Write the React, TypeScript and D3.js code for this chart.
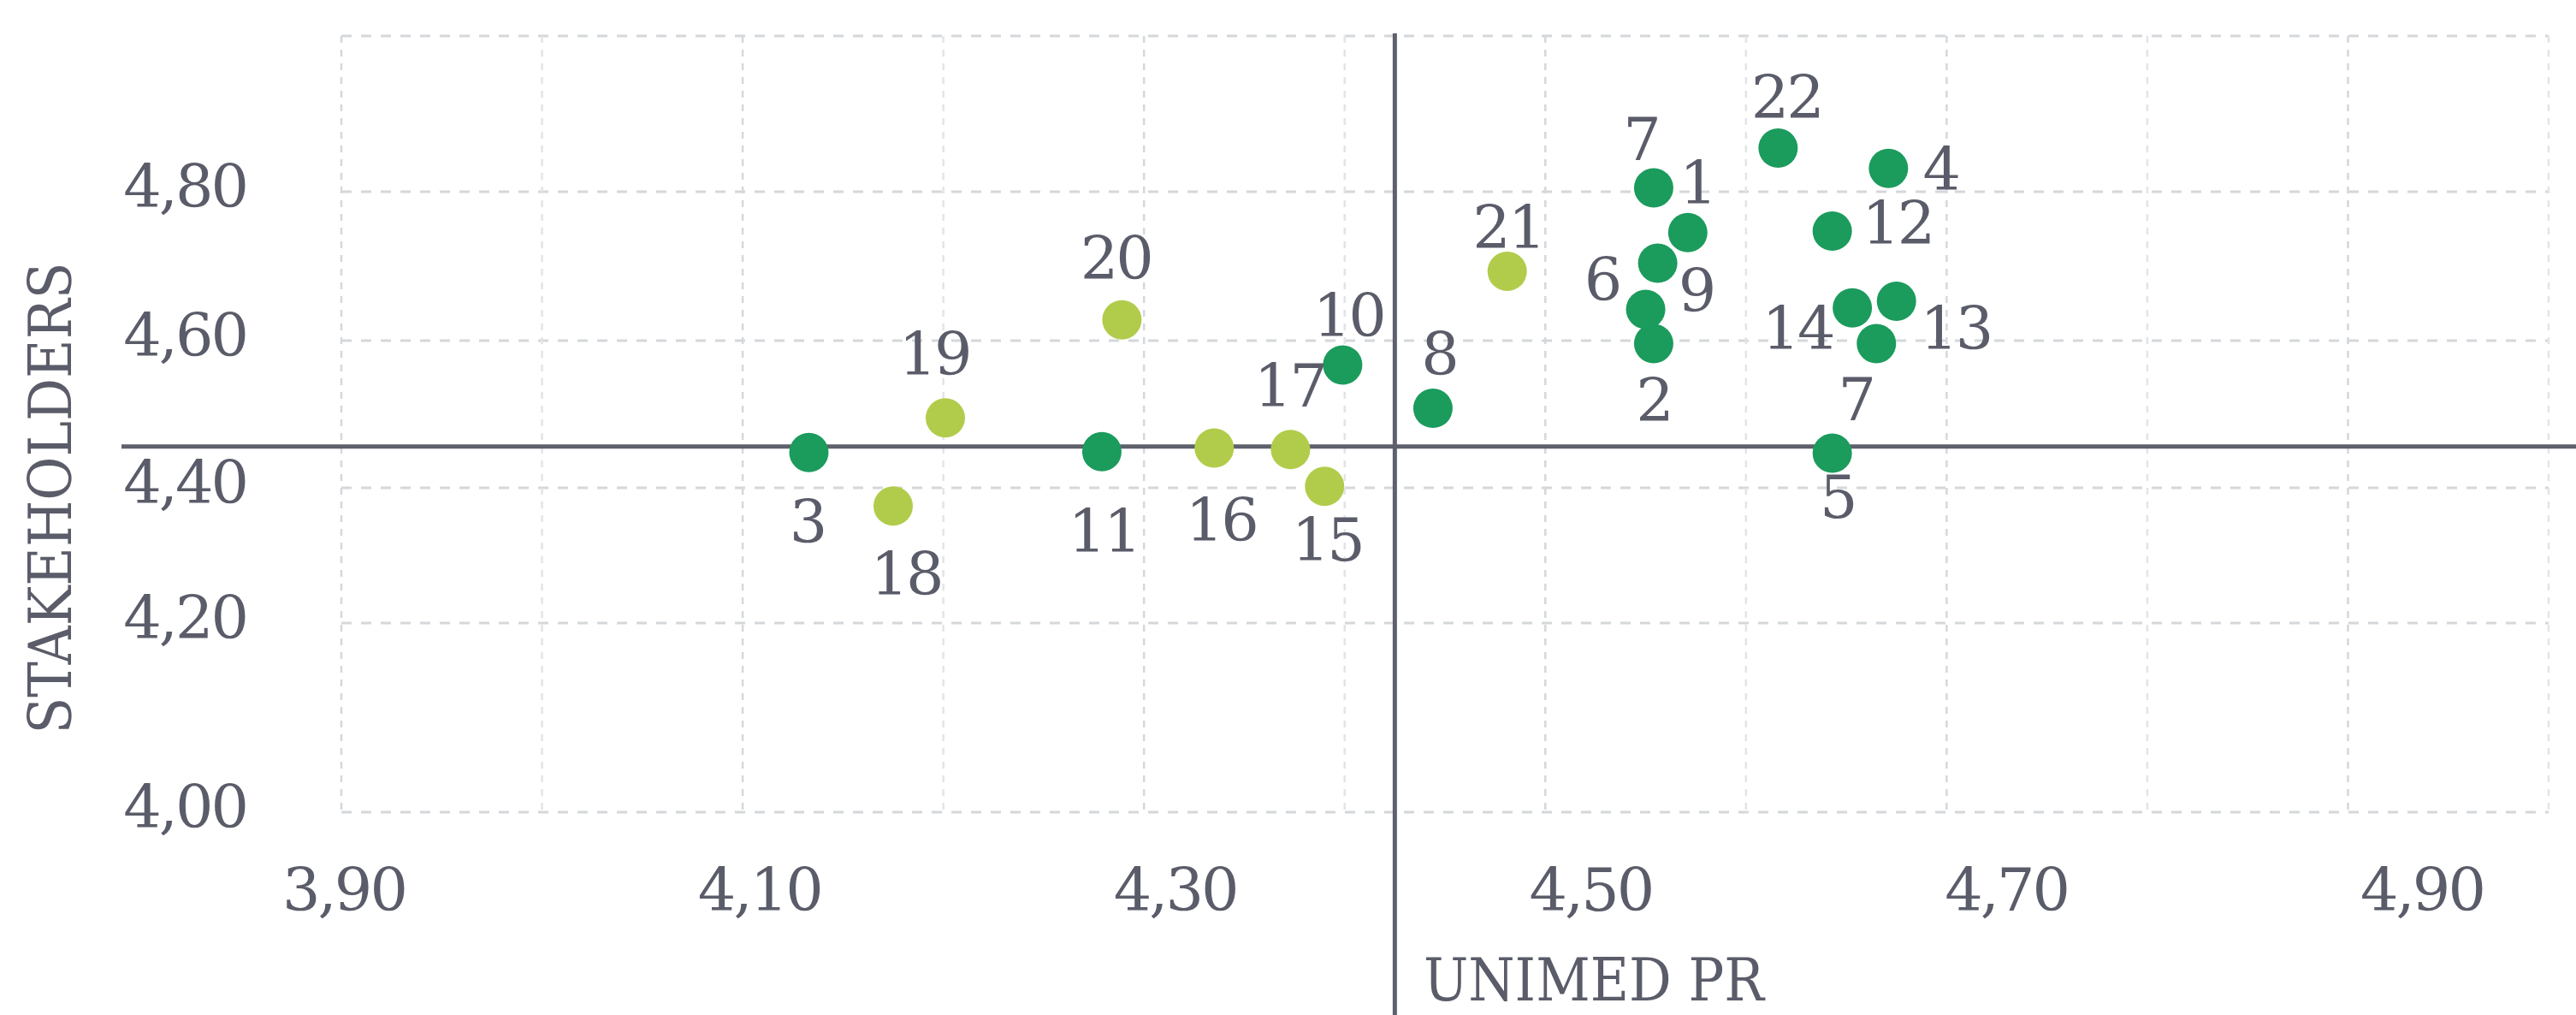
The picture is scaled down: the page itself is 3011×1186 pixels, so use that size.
import React from 'react';
import * as d3 from 'd3';

const W = 3011;
const H = 1186;

// ---- data ----
const pointLabels = ['1', '2', '3', '4', '5', '6', '7', '7', '8', '9', '10', '11', '12', '13', '14', '15', '16', '17', '18', '19', '20', '21', '22'];
const unimedPR = [4.571, 4.554, 4.133, 4.671, 4.643, 4.550, 4.554, 4.665, 4.444, 4.556, 4.399, 4.279, 4.643, 4.675, 4.653, 4.390, 4.335, 4.373, 4.175, 4.201, 4.289, 4.481, 4.616];
const stakeholders = [4.745, 4.596, 4.448, 4.830, 4.447, 4.642, 4.805, 4.596, 4.508, 4.704, 4.567, 4.449, 4.747, 4.653, 4.644, 4.402, 4.454, 4.452, 4.373, 4.495, 4.628, 4.693, 4.856];
const pointGroup = ['dark', 'dark', 'dark', 'dark', 'dark', 'dark', 'dark', 'dark', 'dark', 'dark', 'dark', 'dark', 'dark', 'dark', 'dark', 'light', 'light', 'light', 'light', 'light', 'light', 'light', 'dark'];

const xTickValues = [3.9, 4.1, 4.3, 4.5, 4.7, 4.9];
const yTickValues = [4.0, 4.2, 4.4, 4.6, 4.8];
const xGridValues = [3.9, 4.0, 4.1, 4.2, 4.3, 4.4, 4.5, 4.6, 4.7, 4.8, 4.9, 5.0];
const yGridValues = [4.0, 4.2, 4.4, 4.6, 4.8, 5.0];
const xReference = 4.425;
const yReference = 4.456;

const xTitle = 'UNIMED PR';
const yTitle = 'STAKEHOLDERS';

// ---- layout (label nudges relative to each dot, px) ----
const labelOffsets: [number, number][] = [
  [11, -59], [0, 66], [-2, 80], [61, 0], [6, 50], [-51, -35], [-15, -57], [-24, 65],
  [7, -64], [45, 31], [7, -58], [2, 92], [76, -10], [69, 31], [-64, 23], [3, 62],
  [8, 83], [-1, -75], [15, 79], [-13, -75], [-7, -73], [1, -52], [10, -60],
];

const colors: Record<string, string> = { dark: '#1b9b5c', light: '#b1cc4b' };
const textColor = '#5a5c69';
const lineColor = '#5e606b';
const gridColor = '#d4d8db';
const fontFamily = "'DejaVu Serif', serif";
const fontSize = 70;
const letterSpacing = -3;

const locale = d3.formatLocale({ decimal: ',', thousands: '.', grouping: [3], currency: ['R$', ''] });
const fmt = locale.format('.2f');

export default function App() {
  const x = d3.scaleLinear().domain([3.9, 5.0]).range([399, 2979]);
  const xLabelPos = d3.scaleLinear().domain([3.9, 4.9]).range([402, 2831]);
  const y = d3.scaleLinear().domain([4.0, 4.2, 4.4, 4.6, 4.8, 5.0]).range([949, 728, 570, 398, 224, 42]);

  const [x0, x1] = x.range();
  const yBottom = y(4.0);
  const yTop = y(5.0);

  return (
    <svg
      width={W}
      height={H}
      viewBox={`0 0 ${W} ${H}`}
      style={{ position: 'absolute', left: 0, top: 0, background: '#fff' }}
      fontFamily={fontFamily}
    >
      <rect x={0} y={0} width={W} height={H} fill="#fff" />
      {/* grid */}
      <g>
        {yGridValues.map((v) => (
          <line key={'hy' + v} x1={x0} x2={x1} y1={y(v)} y2={y(v)} stroke={gridColor} strokeWidth={3} strokeDasharray="12 11" />
        ))}
        {xGridValues.map((v, i) => (
          <line key={'vx' + v} x1={x(v)} x2={x(v)} y1={yTop} y2={yBottom} stroke={i % 2 === 0 ? gridColor : '#e2e5e7'} strokeWidth={2.5} strokeDasharray="8 8" />
        ))}
      </g>
      {/* reference lines */}
      <line x1={142} x2={W} y1={y(yReference)} y2={y(yReference)} stroke={lineColor} strokeWidth={5} />
      <line x1={x(xReference)} x2={x(xReference)} y1={39} y2={H} stroke={lineColor} strokeWidth={5} />
      {/* points */}
      <g>
        {unimedPR.map((v, i) => (
          <circle key={'c' + i} cx={x(v)} cy={y(stakeholders[i])} r={23} fill={colors[pointGroup[i]]} />
        ))}
      </g>
      {/* point labels */}
      <g fill={textColor} fontSize={fontSize} textAnchor="middle" letterSpacing={letterSpacing}>
        {unimedPR.map((v, i) => (
          <text key={'t' + i} x={x(v) + labelOffsets[i][0]} y={y(stakeholders[i]) + labelOffsets[i][1] + 25}>
            {pointLabels[i]}
          </text>
        ))}
      </g>
      {/* y tick labels */}
      <g fill={textColor} fontSize={fontSize} textAnchor="end" letterSpacing={letterSpacing}>
        {yTickValues.map((v) => (
          <text key={'yl' + v} x={288} y={y(v) + 18}>{fmt(v)}</text>
        ))}
      </g>
      {/* x tick labels */}
      <g fill={textColor} fontSize={fontSize} textAnchor="middle" letterSpacing={letterSpacing}>
        {xTickValues.map((v) => (
          <text key={'xl' + v} x={xLabelPos(v)} y={1064}>{fmt(v)}</text>
        ))}
      </g>
      {/* axis titles */}
      <text x={1664} y={1169} fill={textColor} fontSize={fontSize} textLength={398} lengthAdjust="spacingAndGlyphs">{xTitle}</text>
      <text
        transform={`translate(83, ${582})rotate(-90)`}
        textAnchor="middle"
        fill={textColor}
        fontSize={fontSize}
        textLength={551}
        lengthAdjust="spacingAndGlyphs"
      >
        {yTitle}
      </text>
    </svg>
  );
}
